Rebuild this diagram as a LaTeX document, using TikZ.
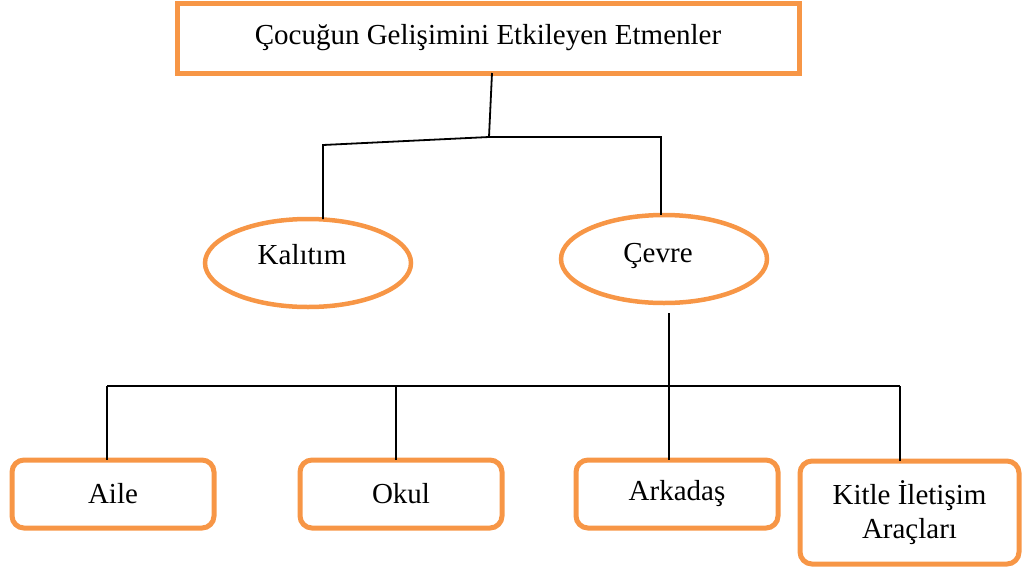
\documentclass[tikz,border=0pt]{standalone}
\usepackage{fontspec}
\setmainfont{Liberation Serif}
\usetikzlibrary{shapes.geometric}
\definecolor{acc}{HTML}{F79646}
\begin{document}
\begin{tikzpicture}[x=1pt,y=-1pt,
  every node/.style={font=\fontsize{29}{34}\selectfont, inner sep=0pt, outer sep=0pt},
  titlebox/.style={draw=acc, line width=5pt, minimum width=622pt, minimum height=70pt},
  oval/.style={ellipse, draw=acc, line width=4.5pt, minimum width=206pt, minimum height=88pt},
  leaf/.style={draw=acc, line width=5pt, rounded corners=12pt, minimum width=202pt, minimum height=68pt, align=center},
  conn/.style={line width=1.8pt, draw=black}]
\useasboundingbox (0,0) rectangle (1023,574);

% nodes
\node[titlebox] (top) at (488,38) {\raisebox{2pt}{Çocuğun Gelişimini Etkileyen Etmenler}};
\node[oval] (kal) at (308,263) {};
\node (kalT) at (302,255) {Kalıtım};
\node[oval] (cev) at (664,259) {};
\node (cevT) at (658,255.5) {Çevre};
\node[leaf] (aile) at (113,494) {Aile};
\node[leaf] (okul) at (401,494) {Okul};
\node[leaf] (ark) at (677,494) {Arkadaş};
\node[leaf, minimum width=219pt, minimum height=103pt] (kit) at (909.5,512.5) {Kitle İletişim\\Araçları};

% junction coordinates
\coordinate (j1) at (489,137);
\coordinate (jr) at (661,137);
\coordinate (jl) at (323,145);
\coordinate (c1) at (669,313);
\coordinate (bus) at (669,386);
\coordinate (bL) at (107,386);
\coordinate (bO) at (396,386);
\coordinate (bR) at (900,386);

% connectors
\draw[conn] ([xshift=4pt]top.south) -- (j1);
\draw[conn] (j1) -- (jr) -- (jr |- cev.north);
\draw[conn] (j1) -- (jl) -- (jl |- kal.north);
\draw[conn] (c1) -- (bus);
\draw[conn] (bL) -- (bR);
\draw[conn] (bL) -- (bL |- aile.north);
\draw[conn] (bO) -- (bO |- okul.north);
\draw[conn] (bus) -- (bus |- ark.north);
\draw[conn] (bR) -- (bR |- kit.north);
\end{tikzpicture}
\end{document}
